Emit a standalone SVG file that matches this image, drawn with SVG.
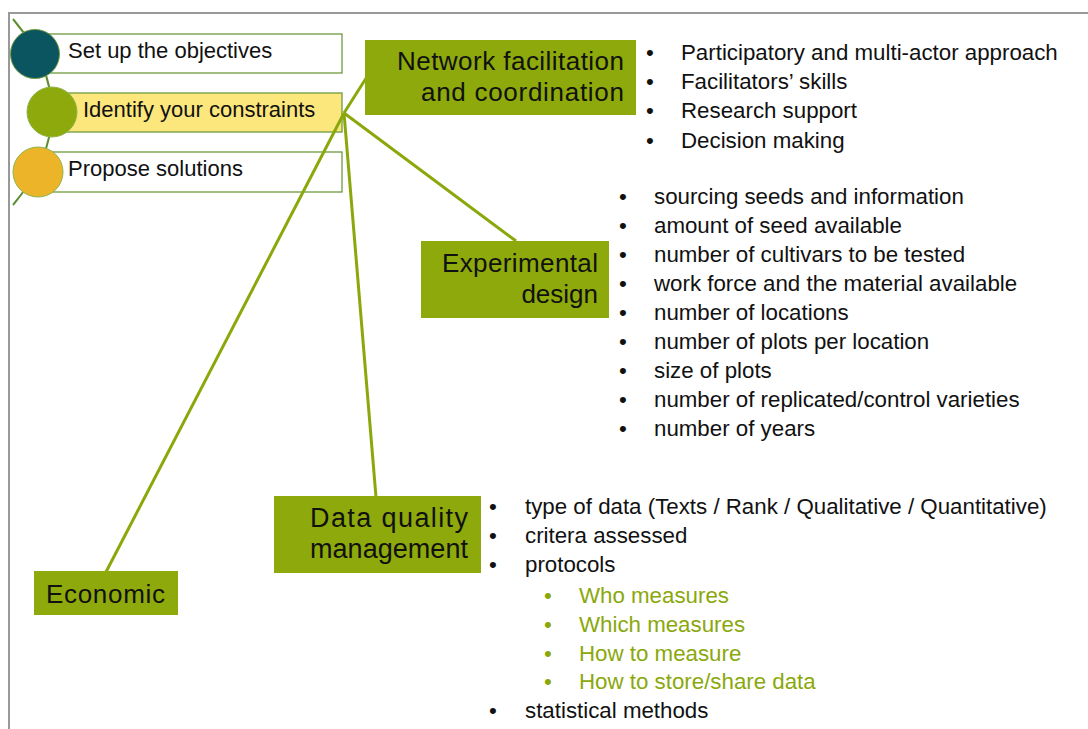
<svg xmlns="http://www.w3.org/2000/svg" width="1088" height="729" viewBox="0 0 1088 729">
<style>
.lbl{font-family:"Liberation Sans",Arial,sans-serif;font-size:22px;fill:#111}
.big{font-family:"Liberation Sans",Arial,sans-serif;font-size:26px;fill:#111;text-anchor:end}
.bl{font-family:"Liberation Sans",Arial,sans-serif;font-size:22.3px;fill:#111}
.gr{fill:#8aa80c}
.box{fill:#8da90b}
.ob{fill:#fff;stroke:#6f9a3e;stroke-width:1.3}
.con{stroke:#8aa80c;stroke-width:3;fill:none}
</style>
<rect width="1088" height="729" fill="#fff"/>
<path d="M9,729 V13 H1088" fill="none" stroke="#999" stroke-width="2"/>
<g id="steps">
<path d="M13,19 Q91,112 13,205" fill="none" stroke="#5e8e32" stroke-width="2"/>
<g id="step1">
<rect class="ob" x="45" y="34" width="297" height="39"/>
<circle cx="35" cy="54" r="24.5" fill="#0b5560" stroke="#6f9a3e" stroke-width="1"/>
<text class="lbl" x="68" y="58">Set up the objectives</text>
</g>
<g id="step2">
<rect class="ob" x="60" y="93" width="282" height="39" style="fill:#fce77c"/>
<circle cx="52" cy="112" r="25" fill="#8da90b" stroke="#8fb44a" stroke-width="1"/>
<text class="lbl" x="83" y="117">Identify your constraints</text>
</g>
<g id="step3">
<rect class="ob" x="45" y="152" width="297" height="40"/>
<circle cx="38" cy="172" r="25" fill="#ecb428" stroke="#8fb44a" stroke-width="1"/>
<text class="lbl" x="68" y="176">Propose solutions</text>
</g>
</g>
<g id="connectors">
<line class="con" x1="344" y1="113" x2="370" y2="72"/>
<line class="con" x1="344" y1="113" x2="516" y2="241"/>
<line class="con" x1="344" y1="113" x2="376" y2="497"/>
<line class="con" x1="344" y1="113" x2="106" y2="572"/>
</g>
<g id="network">
<rect class="box" x="365" y="40" width="271" height="75"/>
<text class="big" x="624" y="70" textLength="227">Network facilitation</text>
<text class="big" x="624" y="101" textLength="203">and coordination</text>
</g>
<g id="experimental">
<rect class="box" x="421" y="241" width="188" height="77"/>
<text class="big" x="598" y="272" textLength="156">Experimental</text>
<text class="big" x="598" y="303">design</text>
</g>
<g id="dataquality">
<rect class="box" x="274" y="496" width="207" height="77"/>
<text class="big" x="468" y="527" style="font-size:27px" textLength="158">Data quality</text>
<text class="big" x="468" y="558" style="font-size:27px" textLength="158">management</text>
</g>
<g id="economic">
<rect class="box" x="34" y="571" width="144" height="44"/>
<text class="big" x="165" y="603" textLength="119">Economic</text>
</g>
<g id="list-network" class="bl">
<text x="646" y="60">•</text><text x="681" y="60">Participatory and multi-actor approach</text>
<text x="646" y="89">•</text><text x="681" y="89">Facilitators’ skills</text>
<text x="646" y="118">•</text><text x="681" y="118">Research support</text>
<text x="646" y="148">•</text><text x="681" y="148">Decision making</text>
</g>
<g id="list-experimental" class="bl">
<text x="619" y="204">•</text><text x="654" y="204">sourcing seeds and information</text>
<text x="619" y="233">•</text><text x="654" y="233">amount of seed available</text>
<text x="619" y="262">•</text><text x="654" y="262">number of cultivars to be tested</text>
<text x="619" y="291">•</text><text x="654" y="291">work force and the material available</text>
<text x="619" y="320">•</text><text x="654" y="320">number of locations</text>
<text x="619" y="349">•</text><text x="654" y="349">number of plots per location</text>
<text x="619" y="378">•</text><text x="654" y="378">size of plots</text>
<text x="619" y="407">•</text><text x="654" y="407">number of replicated/control varieties</text>
<text x="619" y="436">•</text><text x="654" y="436">number of years</text>
</g>
<g id="list-data" class="bl">
<text x="489" y="514">•</text><text x="525" y="514">type of data (Texts / Rank / Qualitative / Quantitative)</text>
<text x="489" y="543">•</text><text x="525" y="543">critera assessed</text>
<text x="489" y="572">•</text><text x="525" y="572">protocols</text>
<text class="gr" x="544" y="603">•</text><text class="gr" x="579" y="603">Who measures</text>
<text class="gr" x="544" y="632">•</text><text class="gr" x="579" y="632">Which measures</text>
<text class="gr" x="544" y="661">•</text><text class="gr" x="579" y="661">How to measure</text>
<text class="gr" x="544" y="689">•</text><text class="gr" x="579" y="689">How to store/share data</text>
<text x="489" y="718">•</text><text x="525" y="718">statistical methods</text>
</g>
</svg>
